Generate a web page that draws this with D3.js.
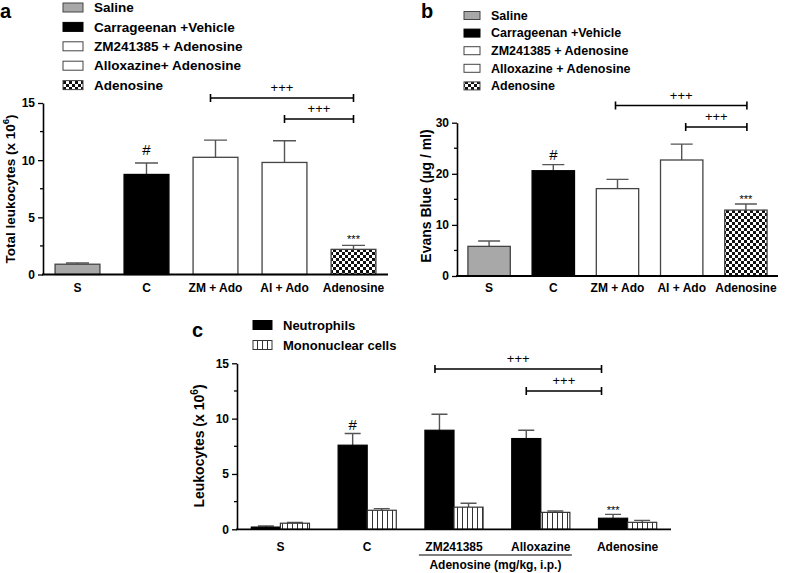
<!DOCTYPE html>
<html><head><meta charset="utf-8">
<script src="https://cdn.jsdelivr.net/npm/d3@7"></script>
<style>
body{margin:0;background:#fff;}
svg text{font-family:"Liberation Sans",Arial,sans-serif;}
</style></head>
<body>
<svg id="chart" width="787" height="573"></svg>
<script>
// ---------- data ----------
const catsAB = ["S", "C", "ZM + Ado", "Al + Ado", "Adenosine"];
const legendA = ["Saline", "Carrageenan +Vehicle", "ZM241385 + Adenosine", "Alloxazine+ Adenosine", "Adenosine"];
const legendB = ["Saline", "Carrageenan +Vehicle", "ZM241385 + Adenosine", "Alloxazine + Adenosine", "Adenosine"];
const totalLeuk = [0.9, 8.75, 10.25, 9.8, 2.2];
const totalLeukSem = [0.1, 1.0, 1.5, 1.9, 0.35];
const evansBlue = [5.8, 20.6, 17.1, 22.7, 12.9];
const evansBlueSem = [1.05, 1.2, 1.8, 3.1, 1.2];
const catsC = ["S", "C", "ZM241385", "Alloxazine", "Adenosine"];
const seriesC = ["Neutrophils", "Mononuclear cells"];
const neutrophils = [0.2, 7.6, 8.95, 8.2, 1.0];
const neutrophilsSem = [0.1, 1.05, 1.45, 0.75, 0.35];
const mononuclear = [0.55, 1.72, 2.0, 1.53, 0.63];
const mononuclearSem = [0.08, 0.15, 0.35, 0.12, 0.18];
const ticksA = [0, 5, 10, 15];
const ticksB = [0, 10, 20, 30];
const ticksC = [0, 5, 10, 15];

// ---------- setup ----------
const svg = d3.select("#chart");
const defs = svg.append("defs");
const chk = defs.append("pattern").attr("id", "checker").attr("patternUnits", "userSpaceOnUse")
  .attr("width", 6).attr("height", 6);
chk.append("rect").attr("width", 6).attr("height", 6).attr("fill", "#fff");
chk.append("rect").attr("width", 3).attr("height", 3).attr("fill", "#111");
chk.append("rect").attr("x", 3).attr("y", 3).attr("width", 3).attr("height", 3).attr("fill", "#111");
const str = defs.append("pattern").attr("id", "stripes").attr("patternUnits", "userSpaceOnUse")
  .attr("width", 5).attr("height", 5);
str.append("rect").attr("width", 5).attr("height", 5).attr("fill", "#fff");
str.append("line").attr("x1", 2.5).attr("x2", 2.5).attr("y1", 0).attr("y2", 5).attr("stroke", "#333").attr("stroke-width", 1);

const fillsAB = ["#a8a8a8", "#000", "#fff", "#fff", "url(#checker)"];
const strokesAB = ["#444", "#000", "#444", "#444", "#444"];
const errColor = "#555";

function yAxis(g, y, x0, ticks, minorStep) {
  const [d0, d1] = y.domain();
  const minors = d3.range(d0 + minorStep, d1, minorStep * 2);
  g.append("g").selectAll("line").data(minors).join("line")
    .attr("x1", x0 - 3).attr("x2", x0).attr("y1", d => y(d)).attr("y2", d => y(d))
    .attr("stroke", "#000").attr("stroke-width", 1.3);
  const ax = g.append("g").attr("transform", `translate(${x0},0)`)
    .call(d3.axisLeft(y).tickValues(ticks).tickSize(5).tickPadding(3).tickSizeOuter(0));
  ax.select(".domain").attr("stroke-width", 1.6);
  ax.selectAll(".tick line").attr("stroke-width", 1.3);
  ax.selectAll(".tick text").attr("font-size", 12).attr("font-weight", "bold").attr("fill", "#000")
    .style("font-family", "'Liberation Sans', Arial, sans-serif");
  ax.attr("font-family", null);
}
function xAxisLine(g, y0, xa, xb) {
  g.append("line").attr("x1", xa).attr("x2", xb).attr("y1", y0).attr("y2", y0)
    .attr("stroke", "#000").attr("stroke-width", 1.8);
}
function errBars(g, data, xc, y, half) {
  g.append("g").selectAll("path").data(data).join("path")
    .attr("d", d => `M${xc(d)},${y(d.v)}V${y(d.v + d.e)}M${xc(d) - half},${y(d.v + d.e)}H${xc(d) + half}`)
    .attr("stroke", errColor).attr("stroke-width", 1.4).attr("fill", "none");
}
function bracket(g, xa, xb, yy, label) {
  g.append("path").attr("d", `M${xa},${yy}H${xb}M${xa},${yy - 4}V${yy + 4}M${xb},${yy - 4}V${yy + 4}`)
    .attr("stroke", "#000").attr("stroke-width", 1.6).attr("fill", "none");
  g.append("text").attr("x", (xa + xb) / 2).attr("y", yy - 6).attr("text-anchor", "middle")
    .attr("font-size", 13).text(label);
}
function yTitle(g, x, y, main, sup, tail, size) {
  const t = g.append("text").attr("transform", `translate(${x},${y}) rotate(-90)`)
    .attr("text-anchor", "middle").attr("font-size", size).attr("font-weight", "bold");
  t.append("tspan").text(main);
  if (sup) {
    t.append("tspan").attr("dy", -6).attr("font-size", size * 0.72).text(sup);
    t.append("tspan").attr("dy", 6).text(tail);
  }
}
function legend(g, labels, fills, strokes, x, y0, dy, w, h, fs) {
  labels.forEach((l, i) => {
    const cy = y0 + i * dy;
    g.append("rect").attr("x", x).attr("y", cy - h / 2).attr("width", w).attr("height", h)
      .attr("fill", fills[i]).attr("stroke", strokes[i]).attr("stroke-width", 1);
    g.append("text").attr("x", x + w + 11).attr("y", cy).attr("dy", "0.35em")
      .attr("font-size", fs).attr("font-weight", "bold").text(l);
  });
}

// ---------- panel a ----------
{
  const g = svg.append("g");
  const x = d3.scaleBand().domain(catsAB).range([43, 388]).paddingInner(0.35).paddingOuter(0.175);
  const y = d3.scaleLinear().domain([0, 15]).range([274.5, 103]);
  const data = catsAB.map((c, i) => ({c, v: totalLeuk[i], e: totalLeukSem[i], i}));
  errBars(g, data, d => x(d.c) + x.bandwidth() / 2, y, 11.5);
  g.append("g").selectAll("rect").data(data).join("rect")
    .attr("x", d => x(d.c)).attr("width", x.bandwidth())
    .attr("y", d => y(d.v)).attr("height", d => y(0) - y(d.v))
    .attr("fill", d => fillsAB[d.i]).attr("stroke", d => strokesAB[d.i]).attr("stroke-width", 1.3);
  yAxis(g, y, 43, ticksA, 2.5);
  xAxisLine(g, y(0), 42, 388);
  g.append("g").selectAll("text").data(catsAB).join("text")
    .attr("x", d => x(d) + x.bandwidth() / 2).attr("y", 292).attr("text-anchor", "middle")
    .attr("font-size", 12).attr("font-weight", "bold").text(d => d);
  yTitle(g, 15, 189, "Total leukocytes (x 10", "6", ")", 13.5);
  g.append("text").attr("x", x("C") + x.bandwidth() / 2).attr("y", 155).attr("text-anchor", "middle").attr("font-size", 15).text("#");
  g.append("text").attr("x", x("Adenosine") + x.bandwidth() / 2).attr("y", 243).attr("text-anchor", "middle").attr("font-size", 11).text("***");
  const cx = c => x(c) + x.bandwidth() / 2;
  bracket(g, cx("ZM + Ado") - 5, cx("Adenosine"), 98, "+++");
  bracket(g, cx("Al + Ado"), cx("Adenosine"), 119, "+++");
  legend(g, legendA, fillsAB, strokesAB, 63, 7.5, 19.4, 20, 9, 13.5);
  g.append("text").attr("x", 0).attr("y", 18).attr("font-size", 20).attr("font-weight", "bold").text("a");
}

// ---------- panel b ----------
{
  const g = svg.append("g");
  const x = d3.scaleBand().domain(catsAB).range([457, 778]).paddingInner(0.34).paddingOuter(0.17);
  const y = d3.scaleLinear().domain([0, 30]).range([276, 122.7]);
  const data = catsAB.map((c, i) => ({c, v: evansBlue[i], e: evansBlueSem[i], i}));
  errBars(g, data, d => x(d.c) + x.bandwidth() / 2, y, 11);
  g.append("g").selectAll("rect").data(data).join("rect")
    .attr("x", d => x(d.c)).attr("width", x.bandwidth())
    .attr("y", d => y(d.v)).attr("height", d => y(0) - y(d.v))
    .attr("fill", d => fillsAB[d.i]).attr("stroke", d => strokesAB[d.i]).attr("stroke-width", 1.3);
  yAxis(g, y, 457, ticksB, 5);
  xAxisLine(g, y(0), 456, 778);
  g.append("g").selectAll("text").data(catsAB).join("text")
    .attr("x", d => x(d) + x.bandwidth() / 2).attr("y", 292).attr("text-anchor", "middle")
    .attr("font-size", 12).attr("font-weight", "bold").text(d => d);
  yTitle(g, 431, 196, "Evans Blue (\u00b5g / ml)", null, null, 14);
  g.append("text").attr("x", x("C") + x.bandwidth() / 2).attr("y", 160).attr("text-anchor", "middle").attr("font-size", 15).text("#");
  g.append("text").attr("x", x("Adenosine") + x.bandwidth() / 2).attr("y", 203).attr("text-anchor", "middle").attr("font-size", 11).text("***");
  const cx = c => x(c) + x.bandwidth() / 2;
  bracket(g, cx("ZM + Ado") - 2, cx("Adenosine") + 1, 105.5, "+++");
  bracket(g, cx("Al + Ado") + 4, cx("Adenosine") + 1, 127, "+++");
  legend(g, legendB, fillsAB, strokesAB, 464, 15.5, 17.6, 16, 8, 12.5);
  g.append("text").attr("x", 421).attr("y", 18).attr("font-size", 20).attr("font-weight", "bold").text("b");
}

// ---------- panel c ----------
{
  const g = svg.append("g");
  const x = d3.scaleBand().domain(catsC).range([237, 671]).paddingInner(0.33).paddingOuter(0.165);
  const xs = d3.scaleBand().domain(seriesC).range([0, x.bandwidth()]);
  const y = d3.scaleLinear().domain([0, 15]).range([529.3, 363.3]);
  const fillsC = ["#000", "url(#stripes)"];
  const strokesC = ["#000", "#333"];
  const data = [];
  catsC.forEach((c, i) => {
    data.push({c, s: seriesC[0], v: neutrophils[i], e: neutrophilsSem[i], k: 0});
    data.push({c, s: seriesC[1], v: mononuclear[i], e: mononuclearSem[i], k: 1});
  });
  errBars(g, data, d => x(d.c) + xs(d.s) + xs.bandwidth() / 2, y, 8);
  g.append("g").selectAll("rect").data(data).join("rect")
    .attr("x", d => x(d.c) + xs(d.s)).attr("width", xs.bandwidth())
    .attr("y", d => y(d.v)).attr("height", d => y(0) - y(d.v))
    .attr("fill", d => fillsC[d.k]).attr("stroke", d => strokesC[d.k]).attr("stroke-width", 1.2);
  yAxis(g, y, 237, ticksC, 2.5);
  xAxisLine(g, y(0), 236, 671);
  g.append("g").selectAll("text").data(catsC).join("text")
    .attr("x", d => x(d) + x.bandwidth() / 2).attr("y", 551).attr("text-anchor", "middle")
    .attr("font-size", 12).attr("font-weight", "bold").text(d => d);
  const ul0 = x("ZM241385") - 6, ul1 = x("Alloxazine") + x.bandwidth() + 2;
  g.append("line").attr("x1", ul0).attr("x2", ul1).attr("y1", 555).attr("y2", 555).attr("stroke", "#000").attr("stroke-width", 1.2);
  g.append("text").attr("x", (ul0 + ul1) / 2).attr("y", 569).attr("text-anchor", "middle")
    .attr("font-size", 12).attr("font-weight", "bold").text("Adenosine (mg/kg, i.p.)");
  yTitle(g, 204, 446, "Leukocytes (x 10", "6", ")", 14);
  const nx = c => x(c) + xs(seriesC[0]) + xs.bandwidth() / 2;
  g.append("text").attr("x", nx("C")).attr("y", 430).attr("text-anchor", "middle").attr("font-size", 15).text("#");
  g.append("text").attr("x", nx("Adenosine")).attr("y", 514).attr("text-anchor", "middle").attr("font-size", 11).text("***");
  bracket(g, nx("ZM241385") - 4.5, x("Adenosine") + 3, 369, "+++");
  bracket(g, nx("Alloxazine"), x("Adenosine") + 3, 391, "+++");
  legend(g, seriesC, fillsC, strokesC, 253, 325, 20, 19, 9, 13);
  g.append("text").attr("x", 192).attr("y", 337).attr("font-size", 20).attr("font-weight", "bold").text("c");
}
</script>
</body></html>
